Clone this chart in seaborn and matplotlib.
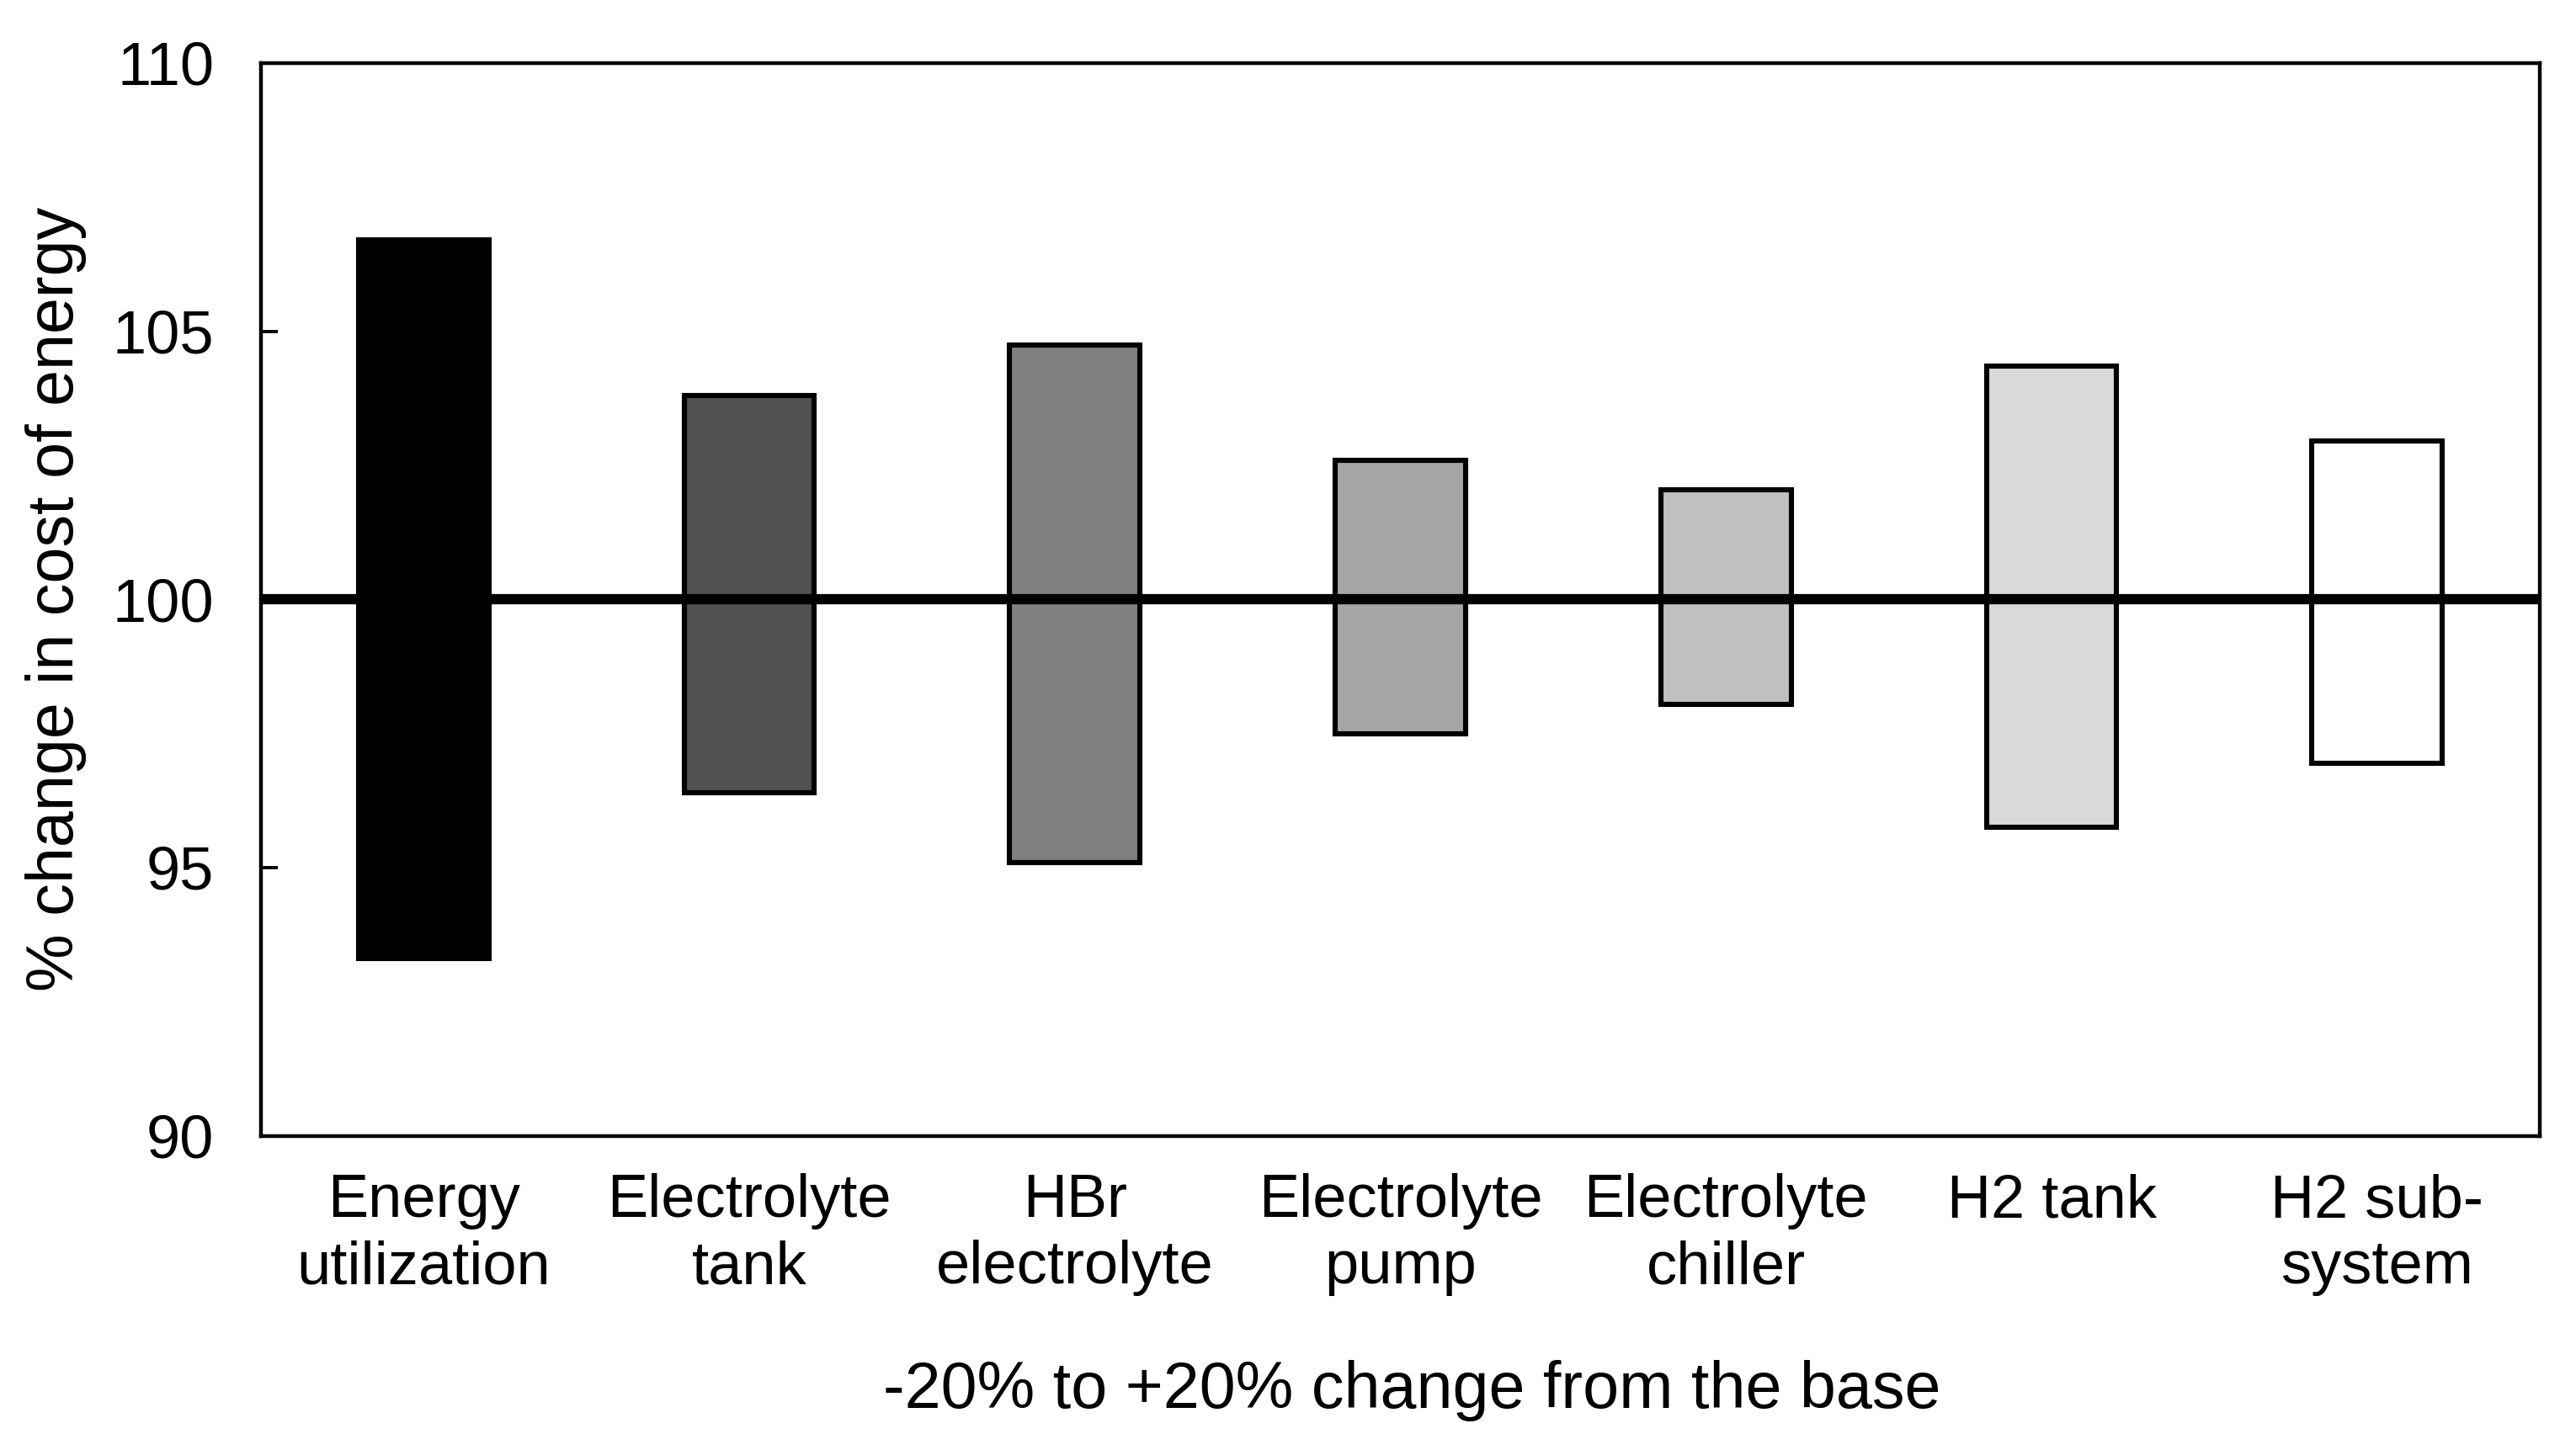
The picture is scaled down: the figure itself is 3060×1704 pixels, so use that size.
import numpy as np
import pandas as pd
import matplotlib
matplotlib.use('Agg')
import matplotlib.pyplot as plt
import seaborn as sns

# data
categories = ['Energy\nutilization', 'Electrolyte\ntank', 'HBr\nelectrolyte',
              'Electrolyte\npump', 'Electrolyte\nchiller', 'H2 tank', 'H2 sub-\nsystem']
low = [93.3, 96.4, 95.1, 97.5, 98.05, 95.75, 96.95]
high = [106.7, 103.8, 104.75, 102.6, 102.05, 104.35, 102.95]
fills = ['#000000', '#505050', '#808080', '#a6a6a6', '#c0c0c0', '#d9d9d9', '#ffffff']
yticks = [90, 95, 100, 105, 110]

sns.set_style('white')
plt.rcParams['font.family'] = ['Liberation Sans', 'DejaVu Sans']
plt.rcParams['text.color'] = 'black'
plt.rcParams['axes.labelcolor'] = 'black'
plt.rcParams['xtick.color'] = 'black'
plt.rcParams['ytick.color'] = 'black'

df = pd.DataFrame({'cat': categories, 'low': low, 'high': high})
df['span'] = df['high'] - df['low']

fig = plt.figure(figsize=(15.3, 8.52), dpi=200)
ax = fig.add_axes([0.1013, 0.208, 0.8847, 0.748])

# floating bars: one call so the bottoms line up with the bars
sns.barplot(data=df, x='cat', y='span', bottom=df['low'].values, width=0.4,
            color='white', edgecolor='black', linewidth=2.2, saturation=1,
            ax=ax, zorder=2)
for patch, c in zip(ax.patches, fills):
    patch.set_facecolor(c)

ax.axhline(100, color='black', lw=4.4, zorder=3)

ax.set_ylim(90, 110)
ax.set_xlim(-0.5, len(categories) - 0.5)
ax.set_yticks(yticks)
ax.set_yticklabels([str(t) for t in yticks])

# category separators as inward minor ticks
ax.set_xticks(np.arange(len(categories) - 1) + 0.5, minor=True)
ax.tick_params(axis='x', which='major', length=0, pad=16, labelsize=26)
ax.tick_params(axis='x', which='minor', direction='in', length=7.2, width=1.4, color='black')
ax.tick_params(axis='y', which='major', direction='in', length=7.2, width=1.4,
               color='black', pad=20, labelsize=26, left=True)
for lbl in ax.get_xticklabels():
    lbl.set_linespacing(1.24)

for s in ax.spines.values():
    s.set_color('black')
    s.set_linewidth(1.6)
    s.set_visible(True)

ax.set_ylabel('% change in cost of energy', fontsize=27.8)
ax.yaxis.set_label_coords(-0.090, 0.5)
ax.yaxis.label.set_va('center')
ax.set_xlabel('-20% to +20% change from the base', fontsize=27.8)
ax.xaxis.set_label_coords(0.505, -0.238)
ax.xaxis.label.set_va('center')

fig.savefig('out.png', dpi=200, facecolor='white')
